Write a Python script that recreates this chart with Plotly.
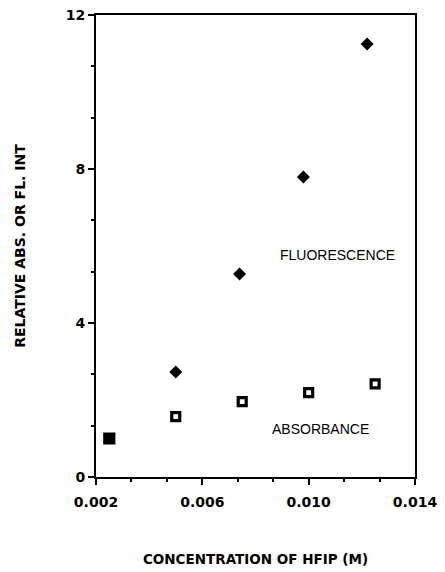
import plotly.graph_objects as go

# Data
fluor_conc = [0.0050, 0.0074, 0.0098, 0.0122]
fluor_val = [2.73, 5.27, 7.79, 11.25]

abs_conc = [0.0025, 0.0050, 0.0075, 0.0100, 0.0125]
abs_val = [1.00, 1.57, 1.96, 2.19, 2.42]

x_ticks = [0.002, 0.006, 0.010, 0.014]
x_tick_labels = ["0.002", "0.006", "0.010", "0.014"]
y_ticks = [0, 4, 8, 12]
y_tick_labels = ["0", "4", "8", "12"]

fig = go.Figure()

fig.add_trace(go.Scatter(
    x=fluor_conc, y=fluor_val, mode="markers", name="FLUORESCENCE",
    marker=dict(symbol="diamond", size=10, color="black", opacity=1),
    showlegend=False,
))

abs_fill = ["black"] + ["white"] * (len(abs_conc) - 1)
abs_size = [9] + [8] * (len(abs_conc) - 1)
fig.add_trace(go.Scatter(
    x=abs_conc, y=abs_val, mode="markers", name="ABSORBANCE",
    marker=dict(symbol="square", size=abs_size, color=abs_fill, opacity=1,
                line=dict(color="black", width=3.2)),
    showlegend=False,
))

tickfont = dict(family="DejaVu Sans, sans-serif", size=14,
                color="black", weight="bold")

fig.update_xaxes(
    range=[0.002, 0.014], tickvals=x_ticks, ticktext=x_tick_labels,
    ticks="outside", ticklen=6, tickwidth=2, tickcolor="black",
    ticklabelstandoff=5, automargin=False,
    minor=dict(dtick=0.004 / 3, tick0=0.002, ticks="outside", ticklen=3,
               tickwidth=2, tickcolor="black"),
    showline=True, linewidth=2, linecolor="black", mirror=True,
    showgrid=False, zeroline=False, tickfont=tickfont,
    title=dict(text="CONCENTRATION OF HFIP (M)",
               font=dict(family="DejaVu Sans, sans-serif", size=13.5,
                         color="black", weight="bold"),
               standoff=46),
)
fig.update_yaxes(
    range=[0, 12], tickvals=y_ticks, ticktext=y_tick_labels,
    ticks="outside", ticklen=6, tickwidth=2, tickcolor="black",
    automargin=False,
    minor=dict(dtick=4 / 3, tick0=0, ticks="outside", ticklen=3,
               tickwidth=2, tickcolor="black"),
    showline=True, linewidth=2, linecolor="black", mirror=True,
    showgrid=False, zeroline=False, tickfont=tickfont,
    title=dict(text="RELATIVE ABS. OR FL. INT",
               font=dict(family="DejaVu Sans, sans-serif", size=14,
                         color="black", weight="bold"),
               standoff=37),
)

annfont = dict(family="Liberation Sans, Arial, sans-serif",
               size=14, color="black")
fig.add_annotation(x=0.01107, y=5.77, text="FLUORESCENCE", showarrow=False,
                   font=annfont, xref="x", yref="y")
fig.add_annotation(x=0.01043, y=1.25, text="ABSORBANCE", showarrow=False,
                   font=annfont, xref="x", yref="y")

fig.update_layout(
    width=445, height=572,
    margin=dict(l=96, r=30, t=15, b=95),
    plot_bgcolor="white", paper_bgcolor="white",
)

fig.write_html("out.html")
